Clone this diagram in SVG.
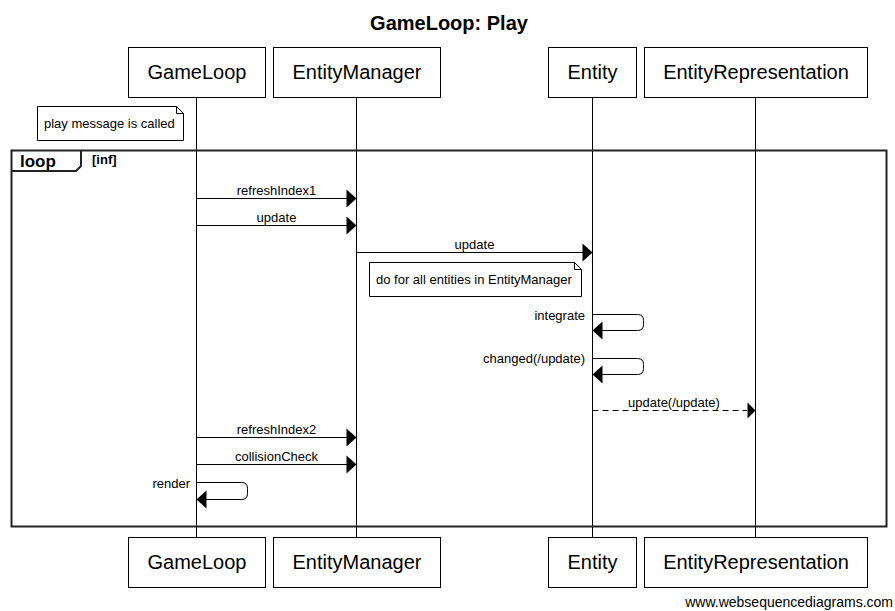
<svg xmlns="http://www.w3.org/2000/svg" width="895" height="611" viewBox="0 0 895 611">
<style>
text{font-family:"Liberation Sans",Arial,sans-serif;fill:#000}
.p{fill:#fff;stroke:#000;stroke-width:1}
.pt{font-size:20px;text-anchor:middle}
.life{stroke:#000;stroke-width:1}
.msg{stroke:#000;stroke-width:1;fill:none}
.dash{stroke-dasharray:6,4}
.ml{font-size:13px;text-anchor:middle}
.sl{font-size:13px;text-anchor:end}
.note{fill:#fff;stroke:#000;stroke-width:1}
.nt{font-size:13px}
.head{fill:#000;stroke:none}
</style>
<rect width="895" height="611" fill="#fff"/>
<text x="449" y="30" font-size="20" font-weight="bold" text-anchor="middle">GameLoop: Play</text>
<g id="lifelines">
<line class="life" x1="196.5" y1="97" x2="196.5" y2="537"/>
<line class="life" x1="356.5" y1="97" x2="356.5" y2="537"/>
<line class="life" x1="592.5" y1="97" x2="592.5" y2="537"/>
<line class="life" x1="755.5" y1="97" x2="755.5" y2="537"/>
</g>
<g id="GameLoop">
<rect class="p" x="128.5" y="47.5" width="137" height="50"/>
<text class="pt" x="197" y="79">GameLoop</text>
<rect class="p" x="128.5" y="537.5" width="137" height="50"/>
<text class="pt" x="197" y="569">GameLoop</text>
</g>
<g id="EntityManager">
<rect class="p" x="273.5" y="47.5" width="167" height="50"/>
<text class="pt" x="357" y="79">EntityManager</text>
<rect class="p" x="273.5" y="537.5" width="167" height="50"/>
<text class="pt" x="357" y="569">EntityManager</text>
</g>
<g id="Entity">
<rect class="p" x="548.5" y="47.5" width="88" height="50"/>
<text class="pt" x="592.5" y="79">Entity</text>
<rect class="p" x="548.5" y="537.5" width="88" height="50"/>
<text class="pt" x="592.5" y="569">Entity</text>
</g>
<g id="EntityRepresentation">
<rect class="p" x="644.5" y="47.5" width="223" height="50"/>
<text class="pt" x="756" y="79">EntityRepresentation</text>
<rect class="p" x="644.5" y="537.5" width="223" height="50"/>
<text class="pt" x="756" y="569">EntityRepresentation</text>
</g>
<g id="note-play">
<path class="note" d="M37.5,106.5 H176.5 L183.5,113.5 V140.5 H37.5 Z"/>
<path class="msg" d="M176.5,106.5 V113.5 H183.5"/>
<text class="nt" x="44" y="128">play message is called</text>
</g>
<g id="loop">
<rect x="11.5" y="150.5" width="875" height="376" fill="none" stroke="#222" stroke-width="2"/>
<path d="M11.5,171 H76 L81,166 V150.5" fill="none" stroke="#222" stroke-width="2"/>
<text x="20" y="167" font-size="17" font-weight="bold">loop</text>
<text x="92" y="164" font-size="13" font-weight="bold">[inf]</text>
</g>
<g id="note-entities">
<path class="note" d="M369.5,262.5 H574.5 L581.5,269.5 V296.5 H369.5 Z"/>
<path class="msg" d="M574.5,262.5 V269.5 H581.5"/>
<text class="nt" x="376" y="284">do for all entities in EntityManager</text>
</g>
<g id="connectors">
<line class="msg" x1="196.5" y1="198.5" x2="347" y2="198.5"/>
<polygon class="head" points="356.5,198.5 346.5,189.5 346.5,207.5"/>
<text class="ml" x="276.5" y="195">refreshIndex1</text>

<line class="msg" x1="196.5" y1="225.5" x2="347" y2="225.5"/>
<polygon class="head" points="356.5,225.5 346.5,216.5 346.5,234.5"/>
<text class="ml" x="276.5" y="222">update</text>

<line class="msg" x1="356.5" y1="252.5" x2="583" y2="252.5"/>
<polygon class="head" points="592.5,252.5 582.5,243.5 582.5,261.5"/>
<text class="ml" x="474.5" y="249">update</text>

<path class="msg" d="M592.5,314.5 H637.5 Q643.5,314.5 643.5,320.5 V324.5 Q643.5,330.5 637.5,330.5 H601"/>
<polygon class="head" points="592.5,330.5 602.5,321.5 602.5,339.5"/>
<text class="sl" x="585" y="320">integrate</text>

<path class="msg" d="M592.5,358.5 H637.5 Q643.5,358.5 643.5,364.5 V368.5 Q643.5,374.5 637.5,374.5 H601"/>
<polygon class="head" points="592.5,374.5 602.5,365.5 602.5,383.5"/>
<text class="sl" x="585" y="363">changed(/update)</text>

<line class="msg dash" x1="592.5" y1="410.5" x2="747" y2="410.5"/>
<polygon class="head" points="755.5,410.5 747.5,402.5 747.5,418.5"/>
<text class="ml" x="674" y="407">update(/update)</text>

<line class="msg" x1="196.5" y1="437.5" x2="347" y2="437.5"/>
<polygon class="head" points="356.5,437.5 346.5,428.5 346.5,446.5"/>
<text class="ml" x="276.5" y="434">refreshIndex2</text>

<line class="msg" x1="196.5" y1="464.5" x2="347" y2="464.5"/>
<polygon class="head" points="356.5,464.5 346.5,455.5 346.5,473.5"/>
<text class="ml" x="276.5" y="461">collisionCheck</text>

<path class="msg" d="M196.5,482.5 H241.5 Q247.5,482.5 247.5,488.5 V493.5 Q247.5,499.5 241.5,499.5 H205"/>
<polygon class="head" points="196.5,499.5 206.5,490.5 206.5,508.5"/>
<text class="sl" x="190" y="488">render</text>
</g>
<text x="893" y="607" font-size="14" text-anchor="end">www.websequencediagrams.com</text>
</svg>
